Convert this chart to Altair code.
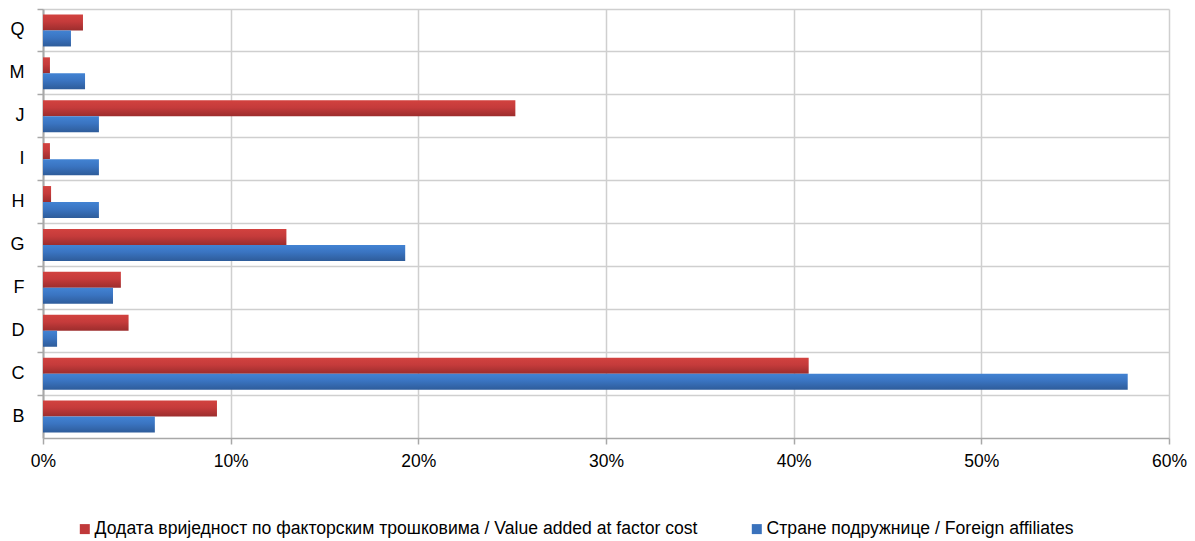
import altair as alt
import pandas as pd

categories = ["Q", "M", "J", "I", "H", "G", "F", "D", "C", "B"]
value_added = [2.13, 0.37, 25.17, 0.37, 0.43, 12.97, 4.15, 4.56, 40.8, 9.27]
foreign_affiliates = [1.49, 2.24, 2.98, 2.98, 2.98, 19.3, 3.73, 0.75, 57.8, 5.96]
series_names = [
    "Додата вриједност по факторским трошковима / Value added at factor cost",
    "Стране подружнице / Foreign affiliates",
]
series_colors = ["#C0393A", "#3A72BC"]
x_ticks = [0, 0.1, 0.2, 0.3, 0.4, 0.5, 0.6]

rows = []
for c, v in zip(categories, value_added):
    rows.append({"category": c, "series": series_names[0], "value": v / 100})
for c, v in zip(categories, foreign_affiliates):
    rows.append({"category": c, "series": series_names[1], "value": v / 100})
df = pd.DataFrame(rows)

FONT = "Liberation Sans"
GRID = "#cfcfcf"

x_enc = alt.X(
    "value:Q",
    scale=alt.Scale(domain=[0, 0.6], nice=False),
    axis=alt.Axis(
        values=x_ticks, format=".0%", title=None, grid=True, gridColor=GRID,
        gridWidth=1.5, domainColor="#a8a8a8", domainWidth=1.5, tickColor="#a8a8a8",
        tickWidth=1.5, tickSize=6, labelFontSize=17.5, labelFont=FONT,
        labelColor="#000000", labelPadding=8, labelFlush=False,
        labelOverlap=False,
    ),
)
y_enc = alt.Y(
    "category:N",
    sort=categories,
    scale=alt.Scale(paddingInner=0, paddingOuter=0),
    axis=alt.Axis(
        title=None, bandPosition=0, grid=True, gridColor=GRID, gridWidth=1.5,
        domainColor="#a8a8a8", domainWidth=2, tickColor="#a8a8a8", tickWidth=1.5,
        tickSize=6, labelFontSize=18, labelFont=FONT, labelColor="#000000",
        labelPadding=13, minExtent=30, maxExtent=30,
    ),
)
yoff_enc = alt.YOffset(
    "series:N", sort=series_names,
    scale=alt.Scale(domain=series_names, paddingInner=0, paddingOuter=0.34),
)


def grad(top, mid, bottom):
    return alt.Gradient(
        gradient="linear",
        stops=[
            alt.GradientStop(color=top, offset=0),
            alt.GradientStop(color=mid, offset=0.45),
            alt.GradientStop(color=bottom, offset=1),
        ],
        x1=0, x2=0, y1=0, y2=1,
    )


legend_layer = alt.Chart(df).mark_bar(opacity=0).encode(
    x=x_enc, y=y_enc, yOffset=yoff_enc,
    color=alt.Color(
        "series:N", sort=series_names,
        scale=alt.Scale(domain=series_names, range=series_colors),
        legend=alt.Legend(
            title=None, orient="none", legendX=33, legendY=511,
            direction="horizontal", symbolType="square", symbolSize=100,
            symbolOpacity=1, symbolStrokeWidth=0, labelFontSize=17.6,
            labelFont=FONT, labelColor="#000000", columnPadding=50,
            labelOffset=1, labelLimit=800,
        ),
    ),
)

red_layer = alt.Chart(df).transform_filter(
    alt.datum.series == series_names[0]
).mark_bar(color=grad("#D2423F", "#C53B3B", "#9C2D2D")).encode(
    x=x_enc, y=y_enc, yOffset=yoff_enc,
)

blue_layer = alt.Chart(df).transform_filter(
    alt.datum.series == series_names[1]
).mark_bar(color=grad("#4283D3", "#3A74C1", "#2E5C9A")).encode(
    x=x_enc, y=y_enc, yOffset=yoff_enc,
)

chart = alt.layer(legend_layer, red_layer, blue_layer).properties(
    width=1126, height=429,
    padding={"left": 1, "top": 0, "right": 0, "bottom": 0},
    background="#ffffff",
).configure_view(stroke=None)

chart.save("out.html", embed_options={"renderer": "svg", "actions": False})
